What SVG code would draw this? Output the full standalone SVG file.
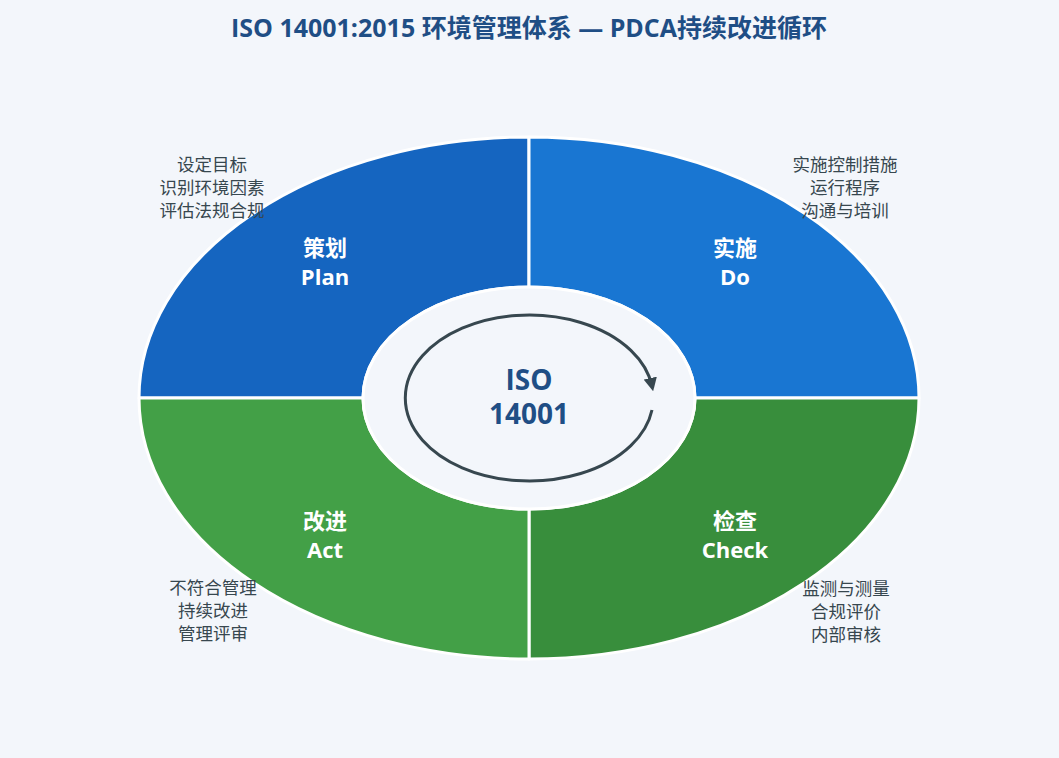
<svg xmlns="http://www.w3.org/2000/svg" width="1059" height="758" viewBox="0 0 1059 758">
<defs>
<style>
.bg{fill:#F3F6FB}
.seg{stroke:#FFFFFF;stroke-width:3;stroke-linejoin:round}
.t{font-family:"Open Sans","Noto Sans CJK SC",sans-serif;text-anchor:middle;dominant-baseline:central}
.title{font-size:25px;font-weight:bold;fill:#1F4E85}
.lab{font-size:22px;font-weight:bold;fill:#FFFFFF}
.desc{font-size:17.5px;fill:#37474F}
.ctr{font-size:28px;font-weight:bold;fill:#1F4E85}
</style>
<marker id="ah" viewBox="0 0 10 10" refX="6" refY="5" markerWidth="4.5" markerHeight="4.5" orient="auto" markerUnits="strokeWidth">
<path d="M0,0 L10,5 L0,10 Z" fill="#37474F"/>
</marker>
</defs>
<rect class="bg" x="0" y="0" width="1059" height="758"/>
<text class="t title" x="529" y="27">ISO 14001:2015 环境管理体系 — PDCA持续改进循环</text>
<g id="plan">
<path class="seg" fill="#1565C0" d="M139 398 A390 261 0 0 1 529 137 L529 287 A166 111 0 0 0 363 398 Z"/>
<text class="t lab" x="325" y="247">策划</text>
<text class="t lab" x="325" y="276">Plan</text>
<text class="t desc" x="212" y="164">设定目标</text>
<text class="t desc" x="212" y="187">识别环境因素</text>
<text class="t desc" x="212" y="210">评估法规合规</text>
</g>
<g id="do">
<path class="seg" fill="#1976D2" d="M529 137 A390 261 0 0 1 919 398 L695 398 A166 111 0 0 0 529 287 Z"/>
<text class="t lab" x="735" y="247">实施</text>
<text class="t lab" x="735" y="276">Do</text>
<text class="t desc" x="845" y="164">实施控制措施</text>
<text class="t desc" x="845" y="187">运行程序</text>
<text class="t desc" x="845" y="210">沟通与培训</text>
</g>
<g id="check">
<path class="seg" fill="#388E3C" d="M919 398 A390 261 0 0 1 529 659 L529 509 A166 111 0 0 0 695 398 Z"/>
<text class="t lab" x="735" y="520">检查</text>
<text class="t lab" x="735" y="549">Check</text>
<text class="t desc" x="846" y="588">监测与测量</text>
<text class="t desc" x="846" y="611">合规评价</text>
<text class="t desc" x="846" y="634">内部审核</text>
</g>
<g id="act">
<path class="seg" fill="#43A047" d="M529 659 A390 261 0 0 1 139 398 L363 398 A166 111 0 0 0 529 509 Z"/>
<text class="t lab" x="325" y="520">改进</text>
<text class="t lab" x="325" y="549">Act</text>
<text class="t desc" x="213" y="587">不符合管理</text>
<text class="t desc" x="213" y="610">持续改进</text>
<text class="t desc" x="213" y="633">管理评审</text>
</g>
<g id="center">
<ellipse cx="529" cy="398" rx="166" ry="111" fill="#F3F6FB" stroke="#FFFFFF" stroke-width="3"/>
<text class="t ctr" x="529" y="379">ISO</text>
<text class="t ctr" x="529" y="413">14001</text>
</g>
<g id="connectors">
<path d="M652 410 A124 83 0 1 1 652 386" fill="none" stroke="#37474F" stroke-width="3" marker-end="url(#ah)"/>
</g>
</svg>
